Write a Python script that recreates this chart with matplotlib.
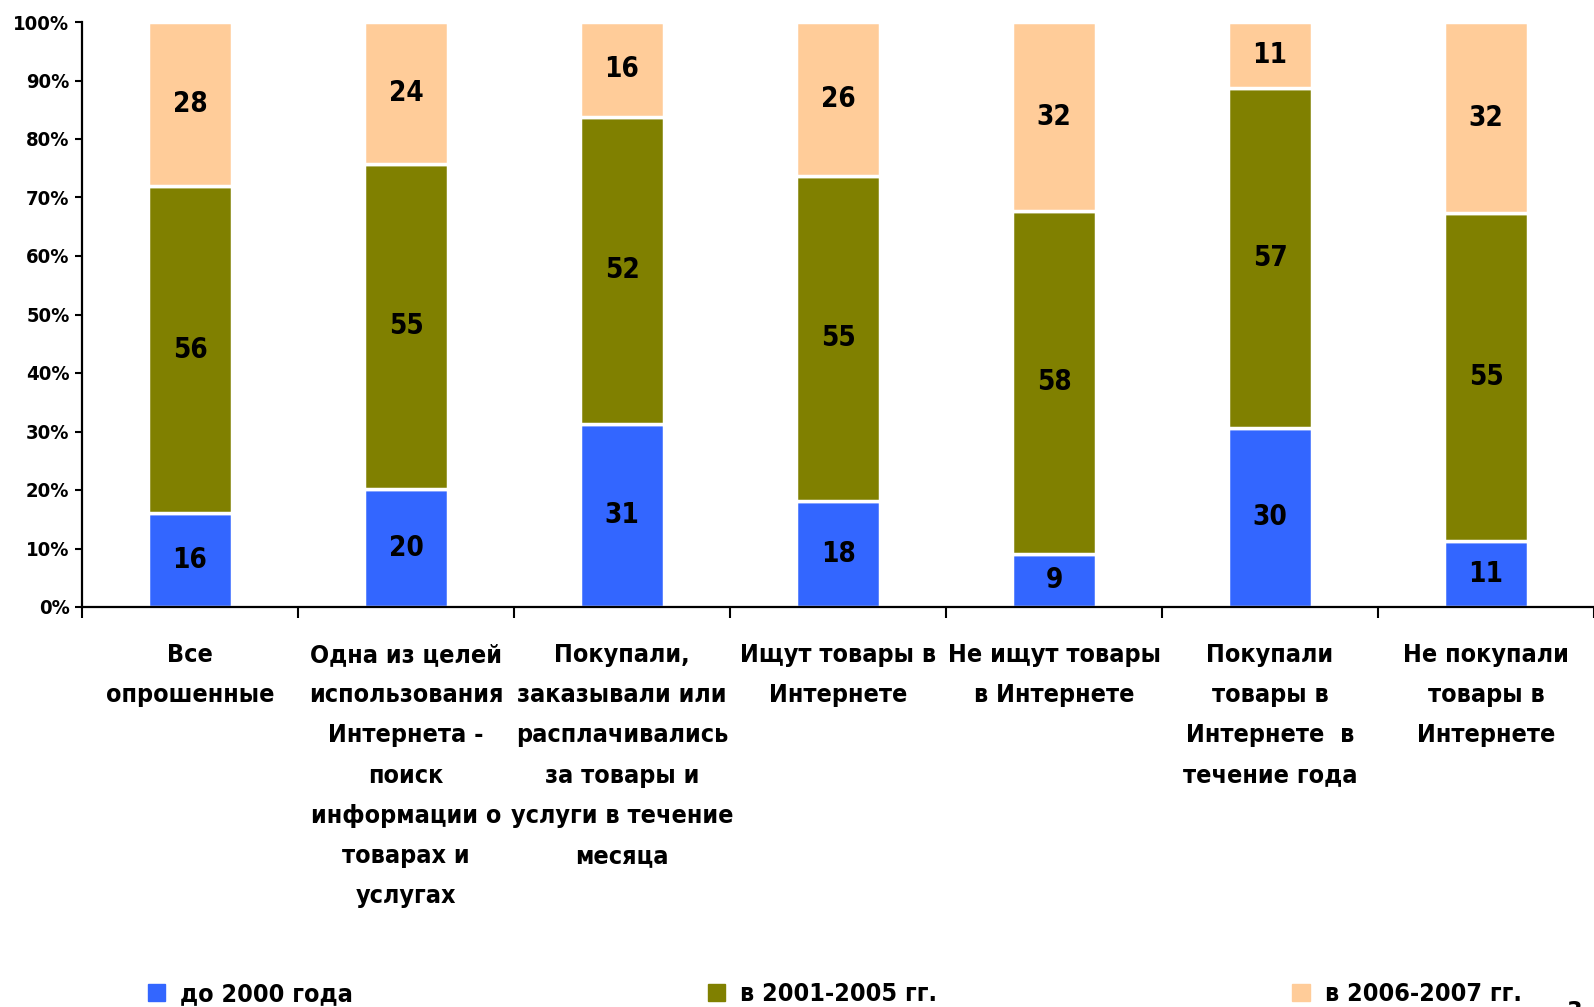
import numpy as np
import matplotlib.pyplot as plt
from matplotlib.patches import Patch

plt.rcParams['font.family'] = ['DejaVu Sans']
plt.rcParams['font.stretch'] = 'condensed'
plt.rcParams['font.weight'] = 'bold'

categories = ["Все\nопрошенные",
              "Одна из целей\nиспользования\nИнтернета -\nпоиск\nинформации о\nтоварах и\nуслугах",
              "Покупали,\nзаказывали или\nрасплачивались\nза товары и\nуслуги в течение\nмесяца",
              "Ищут товары в\nИнтернете",
              "Не ищут товары\nв Интернете",
              "Покупали\nтовары в\nИнтернете  в\nтечение года",
              "Не покупали\nтовары в\nИнтернете"]
before_2000 = [16, 20, 31, 18, 9, 30, 11]
y2001_2005 = [56, 55, 52, 55, 58, 57, 55]
y2006_2007 = [28, 24, 16, 26, 32, 11, 32]
series_names = ["до 2000 года", "в 2001-2005 гг.", "в 2006-2007 гг."]
colors = ["#3366FF", "#808000", "#FFCC99"]

data = np.array([before_2000, y2001_2005, y2006_2007], dtype=float)
totals = data.sum(axis=0)
pct = data / totals * 100

fig = plt.figure(figsize=(15.94, 10.07), dpi=100)
ax = fig.add_axes([82/1594, 1 - 607/1007, 1 - 82/1594, (607 - 22)/1007])

x = np.arange(len(categories))
bottom = np.zeros(len(categories))
for i in range(3):
    ax.bar(x, pct[i], 0.39, bottom=bottom, color=colors[i],
           edgecolor='white', linewidth=2.5)
    for j in range(len(categories)):
        ax.text(x[j], bottom[j] + pct[i][j] / 2, str(int(data[i][j])),
                ha='center', va='center', fontsize=20, fontweight='bold')
    bottom += pct[i]

ax.set_xlim(-0.5, len(categories) - 0.5)
ax.set_ylim(0, 100)
ax.set_yticks(np.arange(0, 101, 10))
ax.set_yticklabels([f"{v}%" for v in range(0, 101, 10)], fontsize=14.5, fontweight='bold')
ax.set_xticks(x)
ax.set_xticklabels(categories, fontsize=18, fontweight='bold', linespacing=1.85)
ax.set_xticks(np.arange(-0.5, len(categories)), minor=True)
ax.tick_params(axis='x', which='major', length=0, pad=26)
ax.tick_params(axis='x', which='minor', length=8, width=1.5)
ax.tick_params(axis='y', length=5, width=1.5, pad=4)
for s in ['top', 'right']:
    ax.spines[s].set_visible(False)
for s in ['left', 'bottom']:
    ax.spines[s].set_linewidth(1.6)

handles = [Patch(color=c) for c in colors]
fig.legend(handles, series_names, loc='center left', bbox_to_anchor=(125/1594, 1 - 994/1007),
           ncol=3, frameon=False, fontsize=18, handlelength=0.7, handleheight=0.7,
           handletextpad=0.6, columnspacing=14.2)
fig.text(1566/1594, 1 - 1012/1007, "3", fontsize=18, fontweight='bold', va='center')

fig.savefig("out.png", dpi=100)
